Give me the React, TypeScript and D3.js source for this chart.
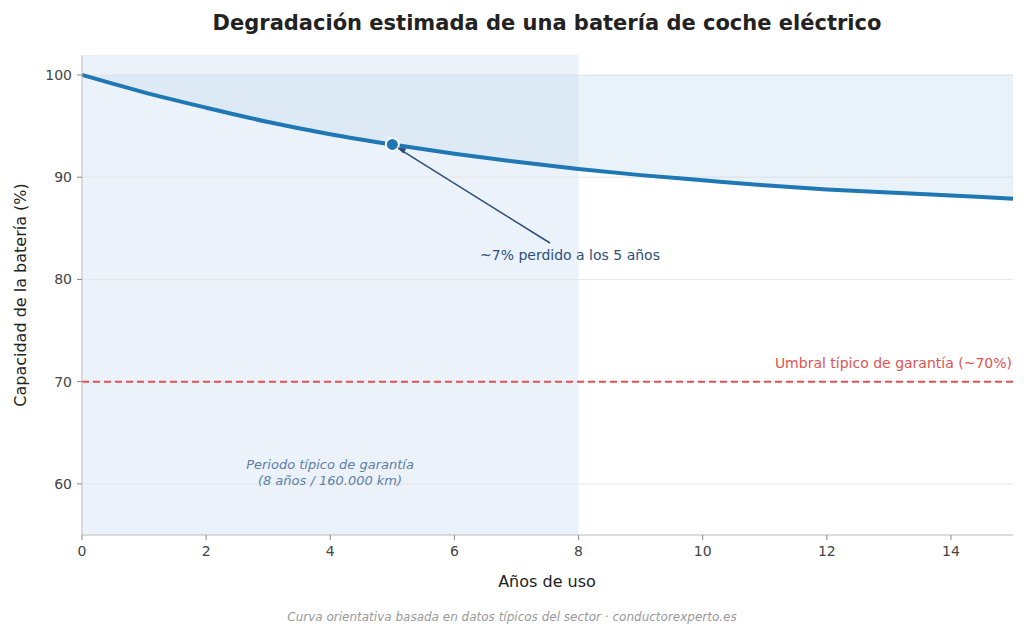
import React from 'react';
import * as d3 from 'd3';

const years = [0, 1, 2, 3, 4, 5, 6, 7, 8, 9, 10, 11, 12, 13, 14, 15];
const capacity = [100, 98.3, 96.8, 95.4, 94.2, 93.2, 92.3, 91.5, 90.8, 90.2, 89.7, 89.2, 88.8, 88.5, 88.2, 87.9];
const xTicks = [0, 2, 4, 6, 8, 10, 12, 14];
const yTicks = [60, 70, 80, 90, 100];

export default function App() {
  const W = 1024, H = 635;
  const m = { left: 82, right: 1013, top: 55, bottom: 535 };
  const x = d3.scaleLinear().domain([0, 15]).range([m.left, m.right]);
  const y = d3.scaleLinear().domain([55, 101.95]).range([m.bottom, m.top]);
  const pts = years.map((t, i) => ({ t, v: capacity[i] }));
  const line = d3.line<{ t: number; v: number }>().x(d => x(d.t)).y(d => y(d.v)).curve(d3.curveMonotoneX);
  const area = d3.area<{ t: number; v: number }>().x(d => x(d.t)).y0(y(100)).y1(d => y(d.v)).curve(d3.curveMonotoneX);
  const font = 'DejaVu Sans, sans-serif';
  return (
    <svg width={W} height={H} style={{ display: 'block', position: 'absolute', left: 0, top: 0 }} fontFamily={font}>
      <rect width={W} height={H} fill="#fff" />
      <text x={547} y={30} textAnchor="middle" fontSize={21} fontWeight="bold" fill="#222">Degradación estimada de una batería de coche eléctrico</text>
      <rect x={x(0)} y={m.top} width={x(8) - x(0)} height={m.bottom - m.top} fill="#dfeaf7" opacity={0.6} />
      {yTicks.map(t => (
        <line key={t} x1={m.left} x2={m.right} y1={y(t)} y2={y(t)} stroke="#e6e6e6" strokeWidth={1} />
      ))}
      <path d={area(pts) ?? ''} fill="#b9d3ea" opacity={0.3} />
      <line x1={m.left} x2={m.right} y1={y(70)} y2={y(70)} stroke="#e05252" strokeWidth={2} strokeDasharray="7,4" />
      <text x={1012} y={368} textAnchor="end" fontSize={14} fill="#e05252">Umbral típico de garantía (~70%)</text>
      <path d={line(pts) ?? ''} fill="none" stroke="#1f77b4" strokeWidth={4} />
      <circle cx={x(5)} cy={y(93.2)} r={6.5} fill="#1f77b4" stroke="#fff" strokeWidth={2} />
      <line x1={550} y1={243} x2={x(5) + 6} y2={y(93.2) + 4} stroke="#2c4f7c" strokeWidth={1.5} />
      <path d={`M${x(5) + 5},${y(93.2) + 3} l9,1 l-3,5 z`} fill="#2c4f7c" />
      <text x={570} y={260} textAnchor="middle" fontSize={14} fill="#2c4f7c">~7% perdido a los 5 años</text>
      <text x={330} y={469} textAnchor="middle" fontSize={13} fontStyle="italic" fill="#5c7ea8">Periodo típico de garantía</text>
      <text x={330} y={485} textAnchor="middle" fontSize={13} fontStyle="italic" fill="#5c7ea8">(8 años / 160.000 km)</text>
      <line x1={m.left} x2={m.left} y1={m.top} y2={m.bottom} stroke="#bbb" />
      <line x1={m.left} x2={m.right} y1={m.bottom} y2={m.bottom} stroke="#bbb" />
      {xTicks.map(t => (
        <g key={t}>
          <line x1={x(t)} x2={x(t)} y1={m.bottom} y2={m.bottom + 5} stroke="#888" />
          <text x={x(t)} y={m.bottom + 21} textAnchor="middle" fontSize={14} fill="#444">{t}</text>
        </g>
      ))}
      {yTicks.map(t => (
        <g key={t}>
          <line x1={m.left - 5} x2={m.left} y1={y(t)} y2={y(t)} stroke="#888" />
          <text x={m.left - 10} y={y(t) + 5} textAnchor="end" fontSize={14} fill="#444">{t}</text>
        </g>
      ))}
      <text x={547} y={587} textAnchor="middle" fontSize={16} fill="#222">Años de uso</text>
      <text transform="translate(26,295) rotate(-90)" textAnchor="middle" fontSize={16} fill="#222">Capacidad de la batería (%)</text>
      <text x={512} y={621} textAnchor="middle" fontSize={12} fontStyle="italic" fill="#999">Curva orientativa basada en datos típicos del sector · conductorexperto.es</text>
    </svg>
  );
}
